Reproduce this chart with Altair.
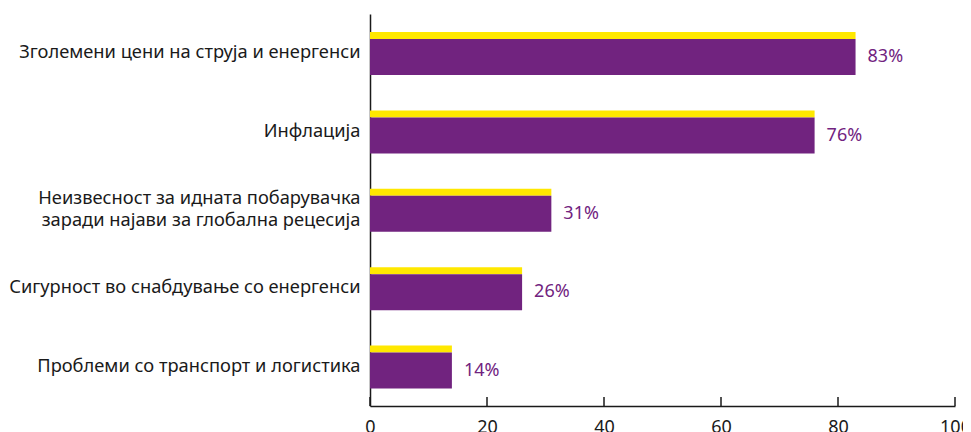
import altair as alt
import pandas as pd

categories = [
    "Зголемени цени на струја и енергенси",
    "Инфлација",
    "Неизвесност за идната побарувачка|заради најави за глобална рецесија",
    "Сигурност во снабдување со енергенси",
    "Проблеми со транспорт и логистика",
]
values = [83, 76, 31, 26, 14]
tick_values = [0, 20, 40, 60, 80, 100]

PURPLE = "#71237F"
YELLOW = "#FFE800"
AXIS = "#1a1a1a"
FONT = "Noto Sans"
FS = 18
W, H = 585, 392

df = pd.DataFrame({"cat": categories, "value": values})
ticks_df = pd.DataFrame({"t": tick_values})

xscale = alt.Scale(domain=[0, 100], nice=False)
yscale = alt.Scale(domain=categories, paddingInner=0, paddingOuter=0)

xaxis = alt.Axis(values=tick_values, grid=False, ticks=False, domainColor=AXIS,
                 domainWidth=1.5, labelFontSize=FS, labelFont=FONT, labelColor=AXIS,
                 labelPadding=12, labelFlush=False, title=None)
yaxis = alt.Axis(ticks=False, domainColor=AXIS, domainWidth=1.5, labelFontSize=18.3,
                 labelFont=FONT, labelColor=AXIS, labelPadding=10, labelLimit=0,
                 labelLineHeight=22, labelExpr="split(datum.label, '|')",
                 labelOffset={"condition": {"test": "indexof(datum.value, '|') >= 0", "value": -11},
                              "value": 0},
                 title=None)

base = alt.Chart(df)

yellow = base.mark_bar(color=YELLOW, height=7, yOffset=-17.7).encode(
    x=alt.X("value:Q", scale=xscale, axis=xaxis),
    y=alt.Y("cat:N", scale=yscale, axis=yaxis, sort=categories),
)
purple = base.mark_bar(color=PURPLE, height=36, yOffset=3.8).encode(
    x=alt.X("value:Q", scale=xscale),
    y=alt.Y("cat:N", scale=yscale, sort=categories),
)
text = base.transform_calculate(lbl="datum.value + '%'").mark_text(
    align="left", baseline="middle", dx=12, dy=4, color=PURPLE, fontSize=FS, font=FONT
).encode(
    x=alt.X("value:Q", scale=xscale),
    y=alt.Y("cat:N", scale=yscale, sort=categories),
    text="lbl:N",
)
tick_rules = alt.Chart(ticks_df).mark_rule(color=AXIS, strokeWidth=1.5).encode(
    x=alt.X("t:Q", scale=xscale),
    y=alt.value(H - 9),
    y2=alt.value(H),
)

chart = alt.layer(yellow, purple, text, tick_rules).properties(
    width=W, height=H,
    autosize=alt.AutoSizeParams(type="none"),
    padding={"left": 362, "top": 6, "right": 8, "bottom": 40},
).configure_view(stroke=None)

chart.save("out.html", embed_options={"renderer": "svg", "actions": False})
